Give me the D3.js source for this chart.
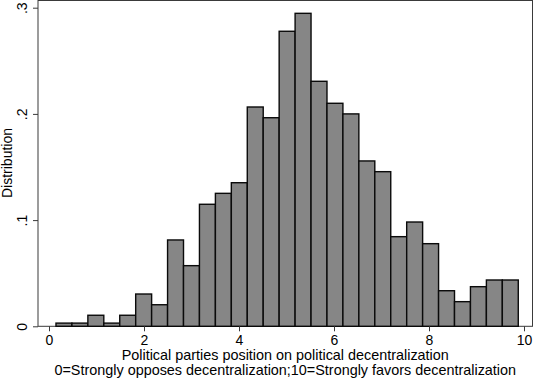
<!DOCTYPE html>
<html>
<head>
<meta charset="utf-8">
<script src="https://cdn.jsdelivr.net/npm/d3@7"></script>
<style>
  html, body { margin: 0; padding: 0; background: #fff; }
  svg { display: block; font-family: "Liberation Sans", Arial, sans-serif; }
</style>
</head>
<body>
<svg id="chart" width="533" height="378"></svg>
<script>
// histogram bins (29 equal-width bins) and their densities
const binStart = 0.147;
const binWidth = 0.3356;
const densities = [
  0.003, 0.003, 0.0104, 0.003, 0.0104, 0.0304, 0.0203, 0.0813,
  0.0571, 0.1149, 0.1252, 0.1352, 0.2065, 0.1964, 0.2778, 0.2947,
  0.2307, 0.21, 0.2, 0.1557, 0.1456, 0.0844, 0.0982, 0.0778,
  0.0335, 0.0232, 0.0373, 0.0436, 0.0436,
];
const xTicks = [0, 2, 4, 6, 8, 10];
const yTicks = [0, 0.1, 0.2, 0.3];
const yTickLabels = ["0", ".1", ".2", ".3"];
const xTitle = [
  "Political parties position on political decentralization",
  "0=Strongly opposes decentralization;10=Strongly favors decentralization",
];
const yTitle = "Distribution";

const svg = d3.select("#chart");
const frame = { left: 38, right: 532.5, top: 0.5, bottom: 326.3 };

const x = d3.scaleLinear().domain([0, 10]).range([49, 524]);
const y = d3.scaleLinear().domain([0, 0.3]).range([326.3, 7.7]);

const bins = densities.map((d, i) => ({
  x0: binStart + i * binWidth,
  x1: binStart + (i + 1) * binWidth,
  value: d,
}));

// plot frame
svg.append("rect")
  .attr("x", frame.left)
  .attr("y", frame.top)
  .attr("width", frame.right - frame.left)
  .attr("height", frame.bottom - frame.top)
  .attr("fill", "none")
  .attr("stroke", "#3a3a3a")
  .attr("stroke-width", 1);

svg.append("g")
  .selectAll("rect")
  .data(bins)
  .join("rect")
  .attr("x", (d) => x(d.x0))
  .attr("y", (d) => y(d.value))
  .attr("width", (d) => x(d.x1) - x(d.x0))
  .attr("height", (d) => y(0) - y(d.value))
  .attr("fill", "#868686")
  .attr("stroke", "#0a0a0a")
  .attr("stroke-width", 1.4);

// x axis
const xAxis = svg.append("g")
  .attr("transform", `translate(0,${frame.bottom})`)
  .call(d3.axisBottom(x).tickValues(xTicks).tickSize(5).tickPadding(4).tickFormat(d3.format("d")));
xAxis.select(".domain").remove();
xAxis.selectAll(".tick line").attr("stroke", "#3a3a3a");
xAxis.selectAll(".tick text")
  .attr("fill", "#000")
  .style("font-size", "14px")
  .style("font-family", "Liberation Sans, Arial, sans-serif");

// y axis
const yAxis = svg.append("g")
  .attr("transform", `translate(${frame.left},0)`)
  .call(d3.axisLeft(y).tickValues(yTicks).tickSize(5).tickFormat((d, i) => yTickLabels[i]));
yAxis.select(".domain").remove();
yAxis.selectAll(".tick line").attr("stroke", "#3a3a3a");
yAxis.selectAll(".tick text")
  .attr("fill", "#000")
  .attr("x", null)
  .attr("dy", null)
  .attr("transform", "translate(-11,0) rotate(-90)")
  .attr("text-anchor", "middle")
  .style("font-size", "14px")
  .style("font-family", "Liberation Sans, Arial, sans-serif");

// titles
const cx = (frame.left + frame.right) / 2;
svg.append("g")
  .selectAll("text")
  .data(xTitle)
  .join("text")
  .attr("x", cx)
  .attr("y", (d, i) => 360 + i * 15)
  .attr("text-anchor", "middle")
  .style("font-size", "14.4px")
  .text((d) => d);

svg.append("text")
  .attr("transform", `translate(12,163) rotate(-90)`)
  .attr("text-anchor", "middle")
  .style("font-size", "14px")
  .text(yTitle);
</script>
</body>
</html>
